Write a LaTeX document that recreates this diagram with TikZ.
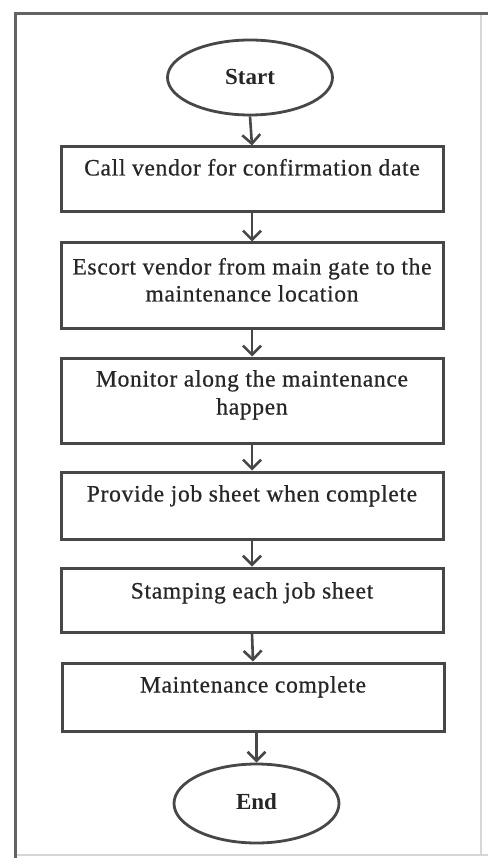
\documentclass[tikz,border=0pt]{standalone}
\usepackage{fontspec}
\setmainfont{Liberation Serif}
\newfontfamily\boxfont[LetterSpace=3,FakeBold=0.6]{Liberation Serif}
\usetikzlibrary{arrows.meta,shapes.geometric}
\definecolor{edge}{HTML}{474747}
\definecolor{ink}{HTML}{262626}
\definecolor{faint}{HTML}{D6D6D6}
\begin{document}
\begin{tikzpicture}[x=1pt,y=-1pt,
  stepbox/.style={draw=edge,line width=3pt,minimum width=382pt,inner sep=0pt,fill=white},
  terminal/.style={ellipse,draw=edge,line width=2.8pt,minimum width=165pt,inner sep=0pt,
    font=\fontsize{23}{27}\selectfont\bfseries,text=ink},
  line/.style={anchor=base,inner sep=0pt,font=\boxfont\fontsize{23.5}{28}\selectfont,text=ink},
  flow/.style={draw=edge,line width=2.6pt,-{Straight Barb[length=9pt,width=18pt,line width=2.6pt]}}]
\useasboundingbox (0,0) rectangle (488,858);

% page frame
\draw[faint,line width=1.5pt] (481,14) -- (481,855);
\draw[faint,line width=2pt] (15,855) -- (488,855);
\draw[edge!85,line width=3pt] (15,858) -- (15,14) -- (488,14);

% terminals
\node[terminal,minimum height=75pt] (start) at (250,77.5) {Start};
\node[terminal,minimum height=79pt] (stop) at (256.5,803.5) {\raisebox{4pt}{End}};

% process boxes
\node[stepbox,minimum height=65pt] (b1) at (252,179.5) {};
\node[stepbox,minimum height=85pt] (b2) at (252,285.5) {};
\node[stepbox,minimum height=85pt] (b3) at (252,400.5) {};
\node[stepbox,minimum height=67pt] (b4) at (252,505.5) {};
\node[stepbox,minimum height=64pt] (b5) at (252,600) {};
\node[stepbox,minimum height=68pt] (b6) at (253,697) {};

% box texts
\node[line] (t1) at ([yshift=-30pt]b1.north) {Call vendor for confirmation date};
\node[line] (t2a) at ([yshift=-33pt]b2.north) {Escort vendor from main gate to the};
\node[line] (t2b) at ([yshift=-60pt]b2.north) {maintenance location};
\node[line] (t3a) at ([yshift=-30pt]b3.north) {Monitor along the maintenance};
\node[line] (t3b) at ([yshift=-58pt]b3.north) {happen};
\node[line] (t4) at ([yshift=-31pt]b4.north) {Provide job sheet when complete};
\node[line] (t5) at ([yshift=-32pt]b5.north) {Stamping each job sheet};
\node[line] (t6) at ([yshift=-31pt]b6.north) {Maintenance complete};

% connectors
\draw[flow] (start.south) -- (b1.north);
\draw[flow] (b1.south) -- (b2.north);
\draw[flow] (b2.south) -- (b3.north);
\draw[flow] (b3.south) -- (b4.north);
\draw[flow] (b4.south) -- (b5.north);
\draw[flow] (b5.south) -- (b6.north);
\draw[flow] (stop.north |- b6.south) -- (stop.north);
\end{tikzpicture}
\end{document}
